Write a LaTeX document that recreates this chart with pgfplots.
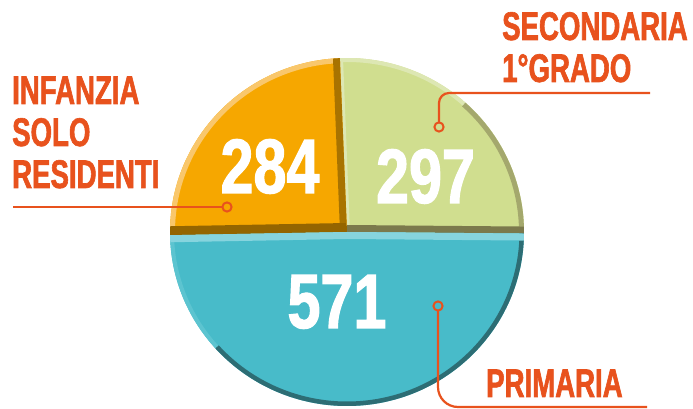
\documentclass[border=0pt]{standalone}
\usepackage{pgfplots}
\usepackage{pgfplotstable}
\pgfplotsset{compat=1.18}
\usepackage{fontspec}
\setmainfont{Liberation Sans}
\newfontfamily\labfont{Liberation Sans}[FakeStretch=0.69, FakeBold=1.5]
\newfontfamily\numfont{Liberation Sans}[FakeStretch=0.77, FakeBold=1.5]
\definecolor{lead}{HTML}{E8521D}
\definecolor{orMain}{HTML}{F6A700}
\definecolor{orLight}{HTML}{F9C76C}
\definecolor{orDark}{HTML}{A87300}
\definecolor{orDarkB}{HTML}{946500}
\definecolor{grMain}{HTML}{D0DE8F}
\definecolor{grLight}{HTML}{DDE7B3}
\definecolor{grRim}{HTML}{A4A86D}
\definecolor{grDark}{HTML}{7B794C}
\definecolor{blMain}{HTML}{48BBC9}
\definecolor{blLight}{HTML}{86D4DE}
\definecolor{blRim}{HTML}{2D6D74}
\definecolor{blLeft}{HTML}{5CC4D0}

\pgfplotstableread{
label value
Secondaria 297
Infanzia 284
Primaria 571
}\pietable
\pgfplotstablegetelem{0}{value}\of\pietable \let\vS\pgfplotsretval
\pgfplotstablegetelem{1}{value}\of\pietable \let\vI\pgfplotsretval
\pgfplotstablegetelem{2}{value}\of\pietable \let\vP\pgfplotsretval
\pgfmathsetmacro\tot{\vS+\vI+\vP}
\pgfmathsetmacro\aA{-0.5}
\pgfmathsetmacro\aB{\aA+\vS/\tot*360}
\pgfmathsetmacro\aC{\aB+\vI/\tot*360}
\pgfmathsetmacro\aD{\aA+360}

\begin{document}%
\begin{tikzpicture}
\begin{axis}[
  x=1pt, y=1pt,
  xmin=0, xmax=693, ymin=0, ymax=409,
  hide axis, clip=true,
]
\coordinate (BL) at (axis cs:0,0);
\coordinate (TR) at (axis cs:693,409);
\fill[white] (axis cs:0,0) rectangle (axis cs:693,409);

% --- Secondaria (green)
\begin{scope}
\clip (axis cs:347,177) -- ++(\aA:177pt and 174pt) arc[start angle=\aA, end angle=\aB, x radius=177pt, y radius=174pt] -- cycle;
\fill[grMain] (axis cs:347,177) ellipse[x radius=180pt, y radius=178pt];
\draw[grLight, line width=8pt] (axis cs:347,177) ellipse[x radius=177pt, y radius=174pt];
\draw[grRim, line width=10pt] (axis cs:347,177) ++(\aA-2:177pt and 174pt) arc[start angle=\aA-2, end angle=48, x radius=177pt, y radius=174pt];
\draw[grLight, line width=6pt] (axis cs:347,177) -- ++(\aB:180pt);
\draw[grDark, line width=14pt] (axis cs:347,177) -- ++(\aA:185pt);
\end{scope}

% --- Infanzia (orange)
\begin{scope}
\clip (axis cs:347,177) -- ++(\aB:177pt and 174pt) arc[start angle=\aB, end angle=\aC, x radius=177pt, y radius=174pt] -- cycle;
\fill[orMain] (axis cs:347,177) ellipse[x radius=180pt, y radius=178pt];
\draw[orLight, line width=10pt] (axis cs:347,177) ellipse[x radius=177pt, y radius=174pt];
\draw[orDark, line width=14pt] (axis cs:347,177) -- ++(\aB:180pt);
\draw[orDarkB, line width=18pt] (axis cs:347,177) -- ++(\aC:185pt);
\end{scope}

% --- Primaria (blue)
\begin{scope}
\clip (axis cs:347,177) -- ++(\aC:177pt and 174pt) arc[start angle=\aC, end angle=\aD, x radius=177pt, y radius=174pt] -- cycle;
\fill[blMain] (axis cs:347,177) ellipse[x radius=180pt, y radius=178pt];
\draw[blLeft, line width=8pt] (axis cs:347,177) ++(\aC-2:177pt and 174pt) arc[start angle=\aC-2, end angle=225, x radius=177pt, y radius=174pt];
\draw[blRim, line width=9pt] (axis cs:347,177) ++(222:177pt and 174pt) arc[start angle=222, end angle=\aD+2, x radius=177pt, y radius=174pt];
\draw[blLight, line width=14pt] (axis cs:347,177) -- ++(\aC:185pt);
\draw[blLight, line width=14pt] (axis cs:347,177) -- ++(\aD:185pt);
\end{scope}

% --- leader lines
\addplot[draw=lead, line width=2.2pt, no marks] coordinates {(13,202) (222,202)};
\addplot[draw=lead, line width=2.2pt, no marks, rounded corners=10pt] coordinates {(650,316) (439,316) (439,287)};
\addplot[draw=lead, line width=2.2pt, no marks, rounded corners=20pt] coordinates {(438,98) (438,2) (647,2)};
\addplot[only marks, mark=o, mark size=4.6pt, mark options={draw=lead, line width=2pt}] coordinates {(227,202) (439,282) (438,103)};

% --- numbers
\node[anchor=base, text=white, font=\numfont\bfseries\fontsize{77}{80}\selectfont] at (axis cs:270,216) {\vI};
\node[anchor=base, text=white, font=\numfont\bfseries\fontsize{77}{80}\selectfont] at (axis cs:425.5,206) {\vS};
\node[anchor=base, text=white, font=\numfont\bfseries\fontsize{77}{80}\selectfont] at (axis cs:337,81) {\vP};

% --- labels
\begin{scope}[every node/.style={anchor=base west, inner sep=0pt, text=lead, font=\labfont\bfseries\fontsize{40}{43}\selectfont}]
\node at (axis cs:12,305) {INFANZIA};
\node at (axis cs:12,263) {SOLO};
\node at (axis cs:12,221) {RESIDENTI};
\node at (axis cs:502,369) {SECONDARIA};
\node at (axis cs:502,327) {1°GRADO};
\node at (axis cs:486,12) {PRIMARIA};
\end{scope}
\end{axis}
\pgfresetboundingbox
\path (BL) rectangle (TR);
\end{tikzpicture}%
\end{document}
